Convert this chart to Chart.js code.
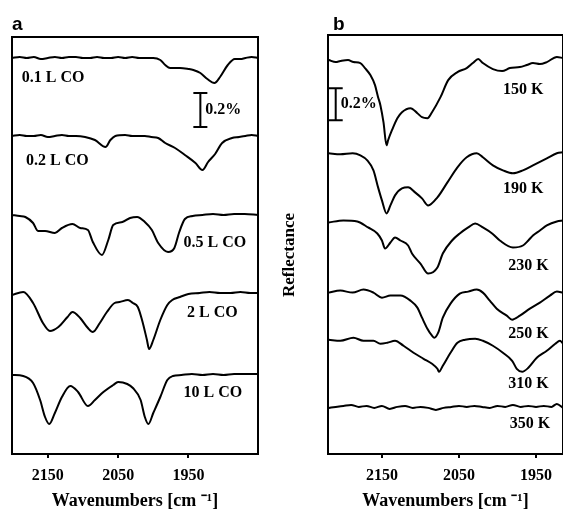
<!DOCTYPE html>
<html>
<head>
<meta charset="utf-8">
<script src="https://cdn.jsdelivr.net/npm/chart.js@4.4.1/dist/chart.umd.min.js"></script>
<style>
  html, body { margin: 0; padding: 0; background: #fff; }
  body { width: 563px; height: 509px; position: relative; overflow: hidden; }
  canvas { position: absolute; top: 0; }
  #chartA { left: 0; }
  #chartB { left: 280px; }
</style>
</head>
<body>
<canvas id="chartA" width="282" height="509"></canvas>
<canvas id="chartB" width="283" height="509"></canvas>
<script>
const SERIF = '"Liberation Serif", "Times New Roman", serif';
const tickWn = [2150, 2050, 1950];

// panel a: CO exposure at fixed T. wavenumber (cm-1) / reflectance change (a.u.)
const exposuresA = ['0.1 L CO', '0.2 L CO', '0.5 L CO', '2 L CO', '10 L CO'];
const offsetsA = [396, 318, 239, 161, 79];

const a01Wn = [2201, 2190, 2180, 2170, 2160, 2150, 2140, 2130, 2120, 2110, 2100, 2090, 2080, 2070, 2060, 2050, 2040, 2030, 2020, 2010, 2000, 1990, 1983, 1976, 1962, 1950, 1943, 1933, 1923, 1913, 1905, 1894, 1884, 1876, 1869, 1860, 1851];
const a01R  = [0, 1, 0, 1, -1, 0, 1, 0, 1, 1, 0, 0, 1, 0, 0, 1, 0, 1, 0, 0, 0, -2, -7, -10, -10, -11, -12, -15, -21, -25, -19, -7, -1, -1, 0, 1, 0];

const a02Wn = [2201, 2190, 2180, 2170, 2160, 2150, 2140, 2130, 2120, 2110, 2097, 2083, 2068, 2061, 2054, 2040, 2030, 2020, 2012, 2003, 1993, 1983, 1969, 1955, 1940, 1930, 1922, 1912, 1902, 1888, 1878, 1869, 1860, 1851];
const a02R  = [0, 1, 0, 0, 1, -1, 0, 1, 0, 0, -1, -4, -11, -4, 0, 1, 0, 0, 0, -1, -2, -7, -12, -19, -27, -34, -26, -18, -7, -2, -1, 0, 1, 0];

const a05Wn = [2201, 2190, 2182, 2171, 2164, 2154, 2140, 2130, 2115, 2104, 2093, 2086, 2073, 2064, 2057, 2044, 2033, 2023, 2012, 2002, 1993, 1979, 1970, 1963, 1955, 1944, 1930, 1915, 1900, 1885, 1870, 1851];
const a05R  = [0, -1, -2, -8, -16, -16, -18, -13, -9, -13, -15, -27, -40, -25, -10, -7, -3, -2, -7, -15, -28, -37, -33, -17, -4, -1, 0, 1, 0, 1, 1, 0];

const a2Wn = [2201, 2185, 2171, 2157, 2147, 2135, 2122, 2115, 2104, 2093, 2086, 2076, 2066, 2055, 2048, 2036, 2029, 2022, 2016, 2009, 2006, 2000, 1990, 1980, 1973, 1962, 1950, 1934, 1920, 1905, 1890, 1876, 1862, 1851];
const a2R  = [-2, 1, -10, -30, -38, -34, -24, -19, -25, -35, -39, -30, -19, -10, -9, -7, -10, -14, -27, -47, -56, -47, -27, -12, -7, -4, -1, 0, 1, 0, 0, 1, 0, 0];

const a10Wn = [2201, 2185, 2171, 2161, 2154, 2148, 2140, 2130, 2118, 2107, 2093, 2083, 2071, 2057, 2050, 2037, 2029, 2018, 2012, 2007, 2000, 1990, 1980, 1972, 1960, 1945, 1930, 1915, 1900, 1885, 1870, 1851];
const a10R  = [0, -1, -8, -25, -42, -49, -38, -22, -11, -17, -31, -25, -17, -10, -7, -9, -13, -25, -42, -49, -38, -22, -5, -1, 0, 1, 0, 1, 0, 1, 1, 1];

// panel b: annealing temperature series
const tempsB = ['150 K', '190 K', '230 K', '250 K', '310 K', '350 K'];
const offsetsB = [393, 300, 231, 163, 114, 47];

const b150Wn = [2219, 2210, 2204, 2194, 2187, 2178, 2172, 2165, 2159, 2155, 2152, 2148, 2144, 2142, 2137, 2130, 2124, 2113, 2104, 2098, 2091, 2085, 2074, 2064, 2052, 2040, 2032, 2025, 2019, 2006, 1994, 1984, 1971, 1962, 1954, 1945, 1936, 1923, 1915];
const b150R  = [0, -2, -1, 0, -2, -3, -8, -15, -25, -37, -45, -62, -85, -80, -70, -58, -52, -48, -53, -57, -58, -52, -37, -20, -12, -8, -3, 1, -3, -9, -11, -8, -7, -5, -3, -4, -2, 3, 2];

const b190Wn = [2219, 2204, 2188, 2178, 2169, 2161, 2155, 2150, 2144, 2139, 2133, 2124, 2116, 2107, 2098, 2090, 2078, 2065, 2052, 2040, 2027, 2019, 2006, 1993, 1980, 1967, 1954, 1936, 1923, 1915];
const b190R  = [0, -1, 0, -2, -7, -17, -34, -47, -60, -52, -42, -35, -34, -39, -45, -52, -44, -29, -14, -4, 0, -4, -12, -17, -20, -17, -12, -5, 0, 1];

const b230Wn = [2219, 2200, 2182, 2168, 2156, 2150, 2146, 2139, 2133, 2126, 2116, 2111, 2100, 2090, 2078, 2071, 2059, 2049, 2038, 2029, 2019, 2007, 1997, 1980, 1967, 1960, 1954, 1945, 1936, 1923, 1915];
const b230R  = [0, 2, 1, -5, -11, -18, -26, -20, -15, -18, -23, -31, -41, -51, -45, -31, -18, -11, -5, -1, -5, -11, -18, -25, -23, -18, -13, -8, -3, 1, 2];

const b250Wn = [2219, 2204, 2188, 2174, 2161, 2150, 2139, 2126, 2113, 2104, 2098, 2091, 2085, 2082, 2077, 2071, 2061, 2049, 2038, 2027, 2019, 2010, 2001, 1988, 1981, 1971, 1958, 1945, 1932, 1923, 1915];
const b250R  = [-2, 0, -2, 1, -2, -7, -5, -5, -10, -17, -27, -38, -45, -47, -42, -27, -13, -3, -1, 1, -2, -10, -18, -25, -29, -25, -18, -12, -5, -1, -2];

const b310Wn = [2219, 2204, 2187, 2174, 2161, 2152, 2143, 2133, 2122, 2109, 2096, 2085, 2078, 2076, 2071, 2061, 2052, 2042, 2029, 2019, 2006, 1993, 1981, 1975, 1968, 1960, 1949, 1936, 1925, 1919, 1915];
const b310R  = [0, -1, 2, -1, -1, -4, -3, -1, -6, -13, -19, -24, -29, -32, -26, -13, -3, 0, 1, -1, -6, -13, -21, -29, -32, -28, -18, -11, -4, -1, -4];

const b350Wn = [2219, 2210, 2200, 2190, 2180, 2170, 2160, 2150, 2140, 2130, 2120, 2110, 2100, 2090, 2080, 2070, 2060, 2050, 2040, 2030, 2020, 2010, 2000, 1990, 1980, 1970, 1960, 1950, 1940, 1930, 1923, 1915];
const b350R  = [-1, 0, 1, 2, 0, 1, -1, 1, -2, 0, 1, -1, 0, -1, -3, -1, 0, 1, 0, 1, 0, -1, 1, 0, 2, 0, 1, 0, 1, 0, 3, -1];

const seriesA = [[a01Wn, a01R], [a02Wn, a02R], [a05Wn, a05R], [a2Wn, a2R], [a10Wn, a10R]];
const seriesB = [[b150Wn, b150R], [b190Wn, b190R], [b230Wn, b230R], [b250Wn, b250R], [b310Wn, b310R], [b350Wn, b350R]];

function makeDatasets(series, offsets, names) {
  return series.map(([wn, r], i) => ({
    label: names[i],
    data: wn.map((w, k) => ({ x: w, y: offsets[i] + r[k] })),
    borderColor: '#000',
    borderWidth: 2,
    pointRadius: 0,
    cubicInterpolationMode: 'monotone',
    fill: false
  }));
}

// frame, trace labels, scale bar, panel letter
function decorPlugin(cfg) {
  return {
    id: 'decor',
    afterDraw(chart) {
      const { ctx, chartArea: ca } = chart;
      const x = chart.scales.x, y = chart.scales.y;
      ctx.save();
      ctx.strokeStyle = '#000';
      ctx.lineWidth = 2;
      ctx.strokeRect(ca.left, ca.top, ca.right - ca.left, ca.bottom - ca.top);

      ctx.fillStyle = '#000';
      ctx.font = 'bold 16px ' + SERIF;
      ctx.textAlign = 'left';
      ctx.textBaseline = 'middle';
      cfg.names.forEach((t, i) => {
        const p = cfg.namePos[i];
        ctx.fillText(t, x.getPixelForValue(p[0]), y.getPixelForValue(p[1]));
      });

      // 0.2 % bar
      const bx = x.getPixelForValue(cfg.bar.wn);
      const y0 = y.getPixelForValue(cfg.bar.level);
      const y1 = y.getPixelForValue(cfg.bar.level + cfg.bar.len);
      ctx.beginPath();
      ctx.moveTo(bx, y0); ctx.lineTo(bx, y1);
      ctx.moveTo(bx - 7, y0); ctx.lineTo(bx + 7, y0);
      ctx.moveTo(bx - 7, y1); ctx.lineTo(bx + 7, y1);
      ctx.stroke();
      ctx.fillText('0.2%', bx + 5, (y0 + y1) / 2);

      ctx.font = 'bold 19px "Liberation Sans", Arial, sans-serif';
      ctx.textBaseline = 'alphabetic';
      ctx.fillText(cfg.letter, ca.left + cfg.letterDx, 30);

      if (cfg.ylabel) {
        ctx.translate(10, 255);
        ctx.rotate(-Math.PI / 2);
        ctx.font = 'bold 17px ' + SERIF;
        ctx.textAlign = 'center';
        ctx.textBaseline = 'middle';
        ctx.fillText(cfg.ylabel, 0, 0);
      }
      ctx.restore();
    }
  };
}

function makeChart(id, datasets, xmin, xmax, ymax, pad, plugin) {
  return new Chart(document.getElementById(id), {
    type: 'line',
    data: { datasets },
    options: {
      responsive: false,
      animation: false,
      devicePixelRatio: 1,
      layout: { padding: pad },
      plugins: { legend: { display: false }, tooltip: { enabled: false } },
      scales: {
        x: {
          type: 'linear',
          reverse: true,
          min: xmin,
          max: xmax,
          afterBuildTicks: s => { s.ticks = tickWn.map(v => ({ value: v })); },
          afterFit: s => { s.height = 55; },
          grid: { drawOnChartArea: false, tickLength: 4, color: '#000', lineWidth: 2 },
          border: { display: false },
          ticks: {
            color: '#000', padding: 8, maxRotation: 0,
            callback: v => String(v),
            font: { family: SERIF, size: 16, weight: 'bold' }
          },
          title: {
            display: true,
            text: 'Wavenumbers [cm \u207B\u00B9]',
            color: '#000',
            padding: { top: 0, bottom: -3 },
            font: { family: SERIF, size: 18, weight: 'bold' }
          }
        },
        y: { display: false, min: 0, max: ymax }
      }
    },
    plugins: [plugin]
  });
}

makeChart('chartA', makeDatasets(seriesA, offsetsA, exposuresA), 1851, 2201, 417,
  { left: 12, right: 24, top: 37, bottom: 0 },
  decorPlugin({
    names: exposuresA,
    namePos: [[2187, 376], [2181, 293], [1957, 211], [1952, 141], [1957, 61]],
    bar: { wn: 1933, level: 327, len: 34 },
    letter: 'a', letterDx: 0
  }));

makeChart('chartB', makeDatasets(seriesB, offsetsB, tempsB), 1915, 2220, 418,
  { left: 48, right: 0, top: 35, bottom: 0 },
  decorPlugin({
    names: tempsB,
    namePos: [[1993, 363], [1993, 265], [1986, 188], [1986, 120], [1986, 70], [1984, 30]],
    bar: { wn: 2210, level: 333, len: 32 },
    letter: 'b', letterDx: 5,
    ylabel: 'Reflectance'
  }));
</script>
</body>
</html>
